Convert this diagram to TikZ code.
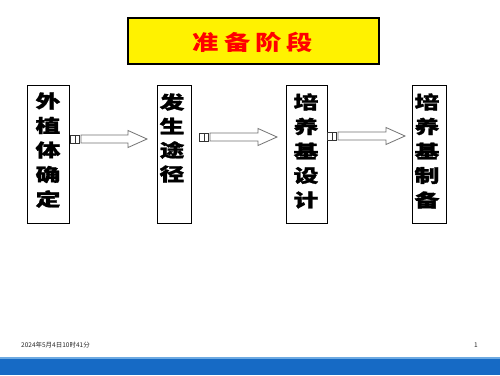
\documentclass[tikz,border=0pt]{standalone}
\usepackage{fontspec}
\newfontfamily\cjk{Noto Sans CJK SC}
\newfontfamily\cjkt{Noto Sans CJK SC}[Color=FF0000, Scale=1.001]
\newfontfamily\cjkh{Noto Sans CJK SC}[BoldFeatures={FakeBold=1.3}]
\definecolor{barblue}{RGB}{22,106,197}
\definecolor{barlight}{RGB}{110,170,225}
\tikzset{
  stagebox/.style={draw=black, line width=0.9pt, fill=white, inner sep=0pt},
  titlebox/.style={draw=black, line width=2pt, fill=yellow, inner sep=0pt},
  ch/.style={inner sep=0pt, font=\cjkh\bfseries\fontsize{18}{18}\selectfont},
  arrowline/.style={draw=black!55, line width=0.8pt, fill=white},
  sqline/.style={draw=black!80, line width=0.6pt, fill=white},
  foot/.style={inner sep=0pt, font=\cjk\fontsize{6.5}{7}\selectfont, text=black!85}
}
\newcommand\blkarrow[4]{%
  \coordinate (#4s) at (#1,#3);
  \coordinate (#4t) at (#2,#3);
  \draw[arrowline] (#1,#3-4) -- (#2-19,#3-4) -- (#2-19,#3-8.5) -- (#4t)
     -- (#2-19,#3+8.5) -- (#2-19,#3+4) -- (#1,#3+4) -- cycle;
  \draw[sqline] (#1-10.5,#3-4) rectangle ++(4.3,8);
  \draw[sqline] (#1-5.7,#3-4) rectangle ++(4.3,8);
}
\newcommand\wide[1]{\scalebox{1.38}[1]{#1}}
\begin{document}
\begin{tikzpicture}[x=1pt,y=-1pt]
\useasboundingbox (0,0) rectangle (500,375);
\fill[white] (0,0) rectangle (500,375);
% title
\node[titlebox, minimum width=251pt, minimum height=46pt] (title) at (253,40.5) {};
\node[inner sep=0pt, text=red, font=\cjkt\bfseries\fontsize{21}{21}\selectfont] (tt) at (253,42)
  {\scalebox{1.25}[1]{准}\hspace{5pt}\scalebox{1.25}[1]{备}\hspace{5pt}\scalebox{1.25}[1]{阶}\hspace{5pt}\scalebox{1.25}[1]{段}};
% boxes
\node[stagebox, minimum width=42pt, minimum height=138pt] (b1) at (48,154) {};
\node[stagebox, minimum width=34pt, minimum height=138pt] (b2) at (174,154) {};
\node[stagebox, minimum width=41pt, minimum height=138pt] (b3) at (306.5,154) {};
\node[stagebox, minimum width=34pt, minimum height=138pt] (b4) at (429,154) {};
\foreach \c [count=\i] in {外,植,体,确,定}
  \node[ch] (c1\i) at (48,{101+24.5*(\i-1)}) {\wide{\c}};
\foreach \c [count=\i] in {发,生,途,径}
  \node[ch] (c2\i) at (172,{102+24*(\i-1)}) {\wide{\c}};
\foreach \c [count=\i] in {培,养,基,设,计}
  \node[ch] (c3\i) at (306,{102+24.5*(\i-1)}) {\wide{\c}};
\foreach \c [count=\i] in {培,养,基,制,备}
  \node[ch] (c4\i) at (427,{102+24.5*(\i-1)}) {\wide{\c}};
% arrows
\blkarrow{81}{147}{139}{a1}
\blkarrow{210}{277}{137}{a2}
\blkarrow{338}{405}{136}{a3}
% footer
\node[foot, anchor=west] (date) at (21,345) {2024年5月4日10时41分};
\node[foot] (page) at (476,345) {1};
\fill[barlight] (0,356.5) rectangle (500,358.5);
\fill[barblue] (0,358.5) rectangle (500,375);
\end{tikzpicture}
\end{document}
